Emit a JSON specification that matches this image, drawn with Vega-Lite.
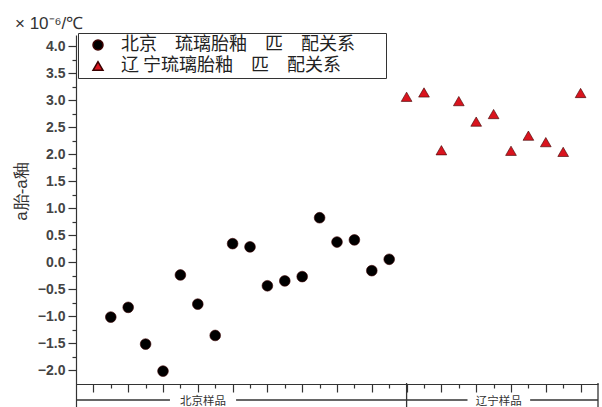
{
  "$schema": "https://vega.github.io/schema/vega-lite/v6.json",
  "width": 522,
  "height": 372,
  "autosize": {"type": "none"},
  "padding": {"left": 76, "top": 35, "right": 4, "bottom": 0},
  "background": "white",
  "config": {"view": {"stroke": null}},
  "title": {"text": "×  10⁻⁶/℃", "anchor": "start", "frame": "group", "dx": -61, "offset": 0, "fontSize": 17, "fontWeight": "normal", "font": "Liberation Sans", "color": "#333"},
  "datasets": {
    "pts": [
      {"i": 1, "v": -1.02, "s": "北京　琉璃胎釉　匹　配关系"},
      {"i": 2, "v": -0.84, "s": "北京　琉璃胎釉　匹　配关系"},
      {"i": 3, "v": -1.52, "s": "北京　琉璃胎釉　匹　配关系"},
      {"i": 4, "v": -2.02, "s": "北京　琉璃胎釉　匹　配关系"},
      {"i": 5, "v": -0.24, "s": "北京　琉璃胎釉　匹　配关系"},
      {"i": 6, "v": -0.78, "s": "北京　琉璃胎釉　匹　配关系"},
      {"i": 7, "v": -1.36, "s": "北京　琉璃胎釉　匹　配关系"},
      {"i": 8, "v": 0.34, "s": "北京　琉璃胎釉　匹　配关系"},
      {"i": 9, "v": 0.28, "s": "北京　琉璃胎釉　匹　配关系"},
      {"i": 10, "v": -0.44, "s": "北京　琉璃胎釉　匹　配关系"},
      {"i": 11, "v": -0.35, "s": "北京　琉璃胎釉　匹　配关系"},
      {"i": 12, "v": -0.27, "s": "北京　琉璃胎釉　匹　配关系"},
      {"i": 13, "v": 0.82, "s": "北京　琉璃胎釉　匹　配关系"},
      {"i": 14, "v": 0.37, "s": "北京　琉璃胎釉　匹　配关系"},
      {"i": 15, "v": 0.41, "s": "北京　琉璃胎釉　匹　配关系"},
      {"i": 16, "v": -0.16, "s": "北京　琉璃胎釉　匹　配关系"},
      {"i": 17, "v": 0.05, "s": "北京　琉璃胎釉　匹　配关系"},
      {"i": 18, "v": 3.06, "s": "辽 宁琉璃胎釉　匹　配关系"},
      {"i": 19, "v": 3.14, "s": "辽 宁琉璃胎釉　匹　配关系"},
      {"i": 20, "v": 2.07, "s": "辽 宁琉璃胎釉　匹　配关系"},
      {"i": 21, "v": 2.98, "s": "辽 宁琉璃胎釉　匹　配关系"},
      {"i": 22, "v": 2.60, "s": "辽 宁琉璃胎釉　匹　配关系"},
      {"i": 23, "v": 2.74, "s": "辽 宁琉璃胎釉　匹　配关系"},
      {"i": 24, "v": 2.06, "s": "辽 宁琉璃胎釉　匹　配关系"},
      {"i": 25, "v": 2.34, "s": "辽 宁琉璃胎釉　匹　配关系"},
      {"i": 26, "v": 2.22, "s": "辽 宁琉璃胎釉　匹　配关系"},
      {"i": 27, "v": 2.04, "s": "辽 宁琉璃胎釉　匹　配关系"},
      {"i": 28, "v": 3.13, "s": "辽 宁琉璃胎釉　匹　配关系"}
    ],
    "brackets": [
      {"x": -1, "x2": 4.4},
      {"x": 8.2, "x2": 18},
      {"x": 18, "x2": 21.5},
      {"x": 25.1, "x2": 29}
    ],
    "dividers": [{"x": 18}, {"x": 29}],
    "groups": [
      {"x": 6.3, "t": "北京样品"},
      {"x": 23.3, "t": "辽宁样品"}
    ]
  },
  "layer": [
    {
      "data": {"name": "pts"},
      "mark": {"type": "point", "filled": true, "opacity": 1, "size": 115, "stroke": "#3a0000", "strokeWidth": 0.6},
      "encoding": {
        "x": {"field": "i", "type": "quantitative",
          "scale": {"domain": [-1, 29], "nice": false, "zero": false},
          "axis": {"values": [0,1,2,3,4,5,6,7,8,9,10,11,12,13,14,15,16,17,18,19,20,21,22,23,24,25,26,27,28],
            "tickCount": 100,
            "labels": false, "labelOverlap": false, "title": null, "grid": false, "offset": -23,
            "domainColor": "#333", "domainWidth": 1.2, "tickColor": "#333", "tickWidth": 1.2,
            "tickSize": {"condition": {"test": "datum.value % 2 === 0", "value": 8}, "value": 4}}},
        "y": {"field": "v", "type": "quantitative",
          "scale": {"domain": [-2.685, 4.204], "nice": false, "zero": false},
          "axis": {"values": [-2,-1.75,-1.5,-1.25,-1,-0.75,-0.5,-0.25,0,0.25,0.5,0.75,1,1.25,1.5,1.75,2,2.25,2.5,2.75,3,3.25,3.5,3.75,4],
            "tickCount": 100,
            "labelExpr": "datum.value % 0.5 === 0 ? format(datum.value, '.1f') : ''",
            "labelOverlap": false,
            "grid": false, "labelFont": "Liberation Sans", "labelFontSize": 14, "labelFontWeight": "bold", "labelColor": "#444",
            "labelPadding": 3,
            "domainColor": "#333", "domainWidth": 1.2, "tickColor": "#333", "tickWidth": 1.2,
            "tickSize": {"condition": {"test": "datum.value % 0.5 === 0", "value": 8}, "value": 4},
            "title": "a胎-a釉", "titleX": -46, "titleY": 156, "titleFont": "Liberation Sans", "titleFontSize": 17, "titleFontWeight": "normal", "titleColor": "#333"}},
        "color": {"field": "s", "type": "nominal",
          "scale": {"domain": ["北京　琉璃胎釉　匹　配关系", "辽 宁琉璃胎釉　匹　配关系"], "range": ["#000000", "#d9141e"]},
          "legend": {"orient": "none", "legendX": 2, "legendY": -2, "padding": 3, "symbolOffset": 8, "labelOffset": 14,
            "title": "mmm", "titleOrient": "right", "titleColor": "white", "titleFontSize": 11, "titlePadding": 0, "titleFontWeight": "normal",
            "rowPadding": 3, "strokeColor": "#333", "fillColor": "white", "labelFont": "Noto Sans CJK SC", "labelFontSize": 18, "labelColor": "#222", "labelLimit": 400, "symbolSize": 100}},
        "shape": {"field": "s", "type": "nominal",
          "scale": {"domain": ["北京　琉璃胎釉　匹　配关系", "辽 宁琉璃胎釉　匹　配关系"], "range": ["circle", "triangle-up"]}}
      }
    },
    {
      "mark": {"type": "rule", "strokeDash": [4, 3], "color": "#111", "strokeWidth": 1},
      "encoding": {"y": {"datum": 1, "type": "quantitative"}}
    },
    {
      "data": {"name": "brackets"},
      "mark": {"type": "rule", "color": "#333", "strokeWidth": 1.3},
      "encoding": {
        "x": {"field": "x", "type": "quantitative"},
        "x2": {"field": "x2"},
        "y": {"datum": -2.555, "type": "quantitative"}
      }
    },
    {
      "data": {"name": "dividers"},
      "mark": {"type": "rule", "color": "#333", "strokeWidth": 1.3},
      "encoding": {
        "x": {"field": "x", "type": "quantitative"},
        "y": {"datum": -2.24, "type": "quantitative"},
        "y2": {"datum": -2.685}
      }
    },
    {
      "data": {"name": "groups"},
      "mark": {"type": "text", "font": "Noto Sans CJK SC", "fontSize": 11.5, "color": "#333", "baseline": "middle", "align": "center"},
      "encoding": {
        "x": {"field": "x", "type": "quantitative"},
        "y": {"datum": -2.585, "type": "quantitative"},
        "text": {"field": "t"}
      }
    }
  ]
}
